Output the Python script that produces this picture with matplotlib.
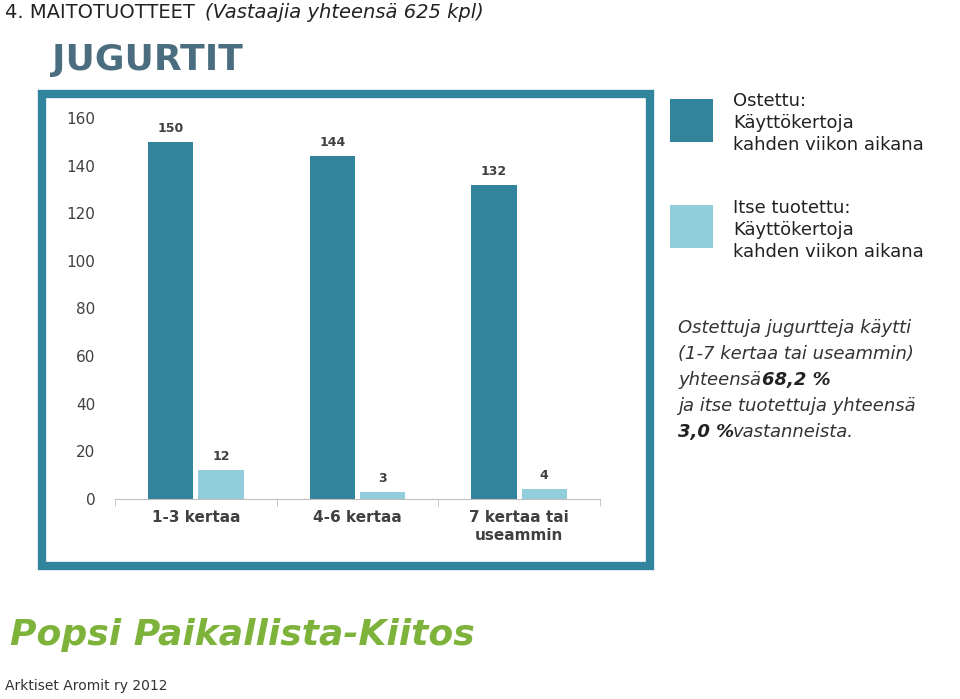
import matplotlib
matplotlib.use("Agg")
import matplotlib.pyplot as plt
from matplotlib.patches import Rectangle
import numpy as np

categories = ["1-3 kertaa", "4-6 kertaa", "7 kertaa tai\nuseammin"]
ostettu = [150, 144, 132]
itse = [12, 3, 4]
yticks = [0, 20, 40, 60, 80, 100, 120, 140, 160]

dark = "#31849B"
light = "#92CDDC"

fig = plt.figure(figsize=(9.6, 6.99), dpi=100)
fig.patch.set_facecolor("white")

fig.patches.append(Rectangle((42/960, 1-566/699), 608/960, 472/699, transform=fig.transFigure,
                             fill=False, edgecolor=dark, linewidth=6))

ax = fig.add_axes([115/960, 1-499/699, 485/960, 381/699])
x = np.arange(len(categories))
w = 0.28
b1 = ax.bar(x - 0.155, ostettu, w, color=dark)
b2 = ax.bar(x + 0.155, itse, w, color=light)
for bars, vals in ((b1, ostettu), (b2, itse)):
    for r, v in zip(bars, vals):
        ax.text(r.get_x() + r.get_width()/2, v + 3, str(v), ha="center", va="bottom",
                fontsize=9, fontweight="bold", color="#404040")
ax.set_ylim(0, 160)
ax.set_xlim(-0.5, 2.5)
ax.set_yticks(yticks)
ax.tick_params(axis="y", length=0, labelsize=11, pad=14, labelcolor="#404040")
ax.set_xticks(x)
ax.set_xticklabels(categories, fontsize=11, fontweight="bold", color="#404040")
ax.tick_params(axis="x", length=0, pad=8)
ax.set_xticks([-0.5, 0.5, 1.5, 2.5], minor=True)
ax.tick_params(axis="x", which="minor", length=5, color="#bfbfbf")
for s in ("left", "right", "top"):
    ax.spines[s].set_visible(False)
ax.spines["bottom"].set_color("#bfbfbf")

fig.text(5/960, 1-12/699, "4. MAITOTUOTTEET", fontsize=14, va="center", color="#222222")
fig.text(205/960, 1-12/699, "(Vastaajia yhteensä 625 kpl)", fontsize=14, va="center",
         style="italic", color="#222222")
fig.text(52/960, 1-60/699, "JUGURTIT", fontsize=26, fontweight="bold", va="center",
         color="#4A6E7F")

fig.patches.append(Rectangle((670/960, 1-142/699), 43/960, 43/699, transform=fig.transFigure,
                             facecolor=dark, edgecolor="none"))
fig.patches.append(Rectangle((670/960, 1-248/699), 43/960, 43/699, transform=fig.transFigure,
                             facecolor=light, edgecolor="none"))
fig.text(733/960, 1-92/699, "Ostettu:\nKäyttökertoja\nkahden viikon aikana", fontsize=13,
         va="top", linespacing=1.3, color="#222222")
fig.text(733/960, 1-199/699, "Itse tuotettu:\nKäyttökertoja\nkahden viikon aikana", fontsize=13,
         va="top", linespacing=1.3, color="#222222")
ty = 320
lines = [("Ostettuja jugurtteja käytti", None),
         ("(1-7 kertaa tai useammin)", None),
         ("yhteensä ", "68,2 %"),
         ("ja itse tuotettuja yhteensä", None),
         (None, "3,0 %")]
for i, (a, b) in enumerate(lines):
    yy = 1 - (ty + 8 + i*26)/699
    if a is None:
        fig.text(678/960, yy, "3,0 %", fontsize=13, fontweight="bold", style="italic",
                 va="center", color="#222222")
        fig.text(733/960, yy, "vastanneista.", fontsize=13, style="italic", va="center",
                 color="#333333")
    else:
        fig.text(678/960, yy, a, fontsize=13, style="italic", va="center", color="#333333")
        if b:
            fig.text(762/960, yy, b, fontsize=13, fontweight="bold", style="italic",
                     va="center", color="#222222")

fig.text(10/960, 1-635/699, "Popsi Paikallista-Kiitos", fontsize=26, fontweight="bold",
         va="center", color="#7DB33A", style="italic")
fig.text(5/960, 1-686/699, "Arktiset Aromit ry 2012", fontsize=10, va="center", color="#333333")

fig.savefig("out.png", dpi=100, facecolor="white")
